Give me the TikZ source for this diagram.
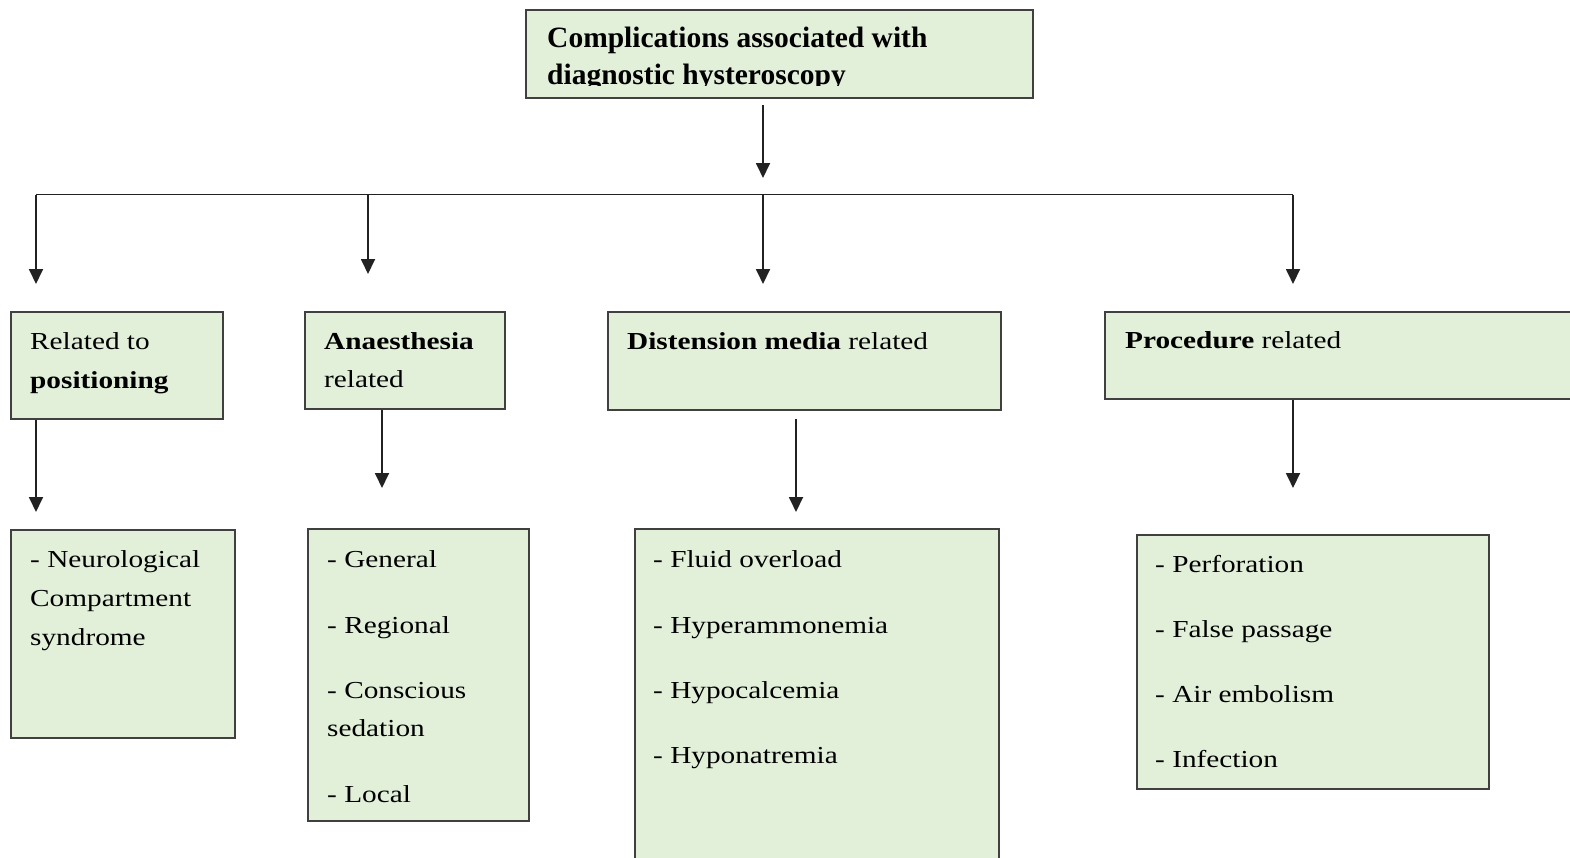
\documentclass[tikz,border=0pt]{standalone}
\usepackage{fontspec}
\setmainfont{Liberation Serif}
\newfontfamily\lowfont{Liberation Serif}[FakeStretch=1.2]
\usetikzlibrary{arrows.meta}
\definecolor{boxfill}{HTML}{E2EFD9}
\definecolor{boxline}{HTML}{404040}
\definecolor{lnk}{HTML}{222222}
\tikzset{
  box/.style={draw=boxline, fill=boxfill, line width=1.8pt, inner sep=0pt, anchor=north west},
  toptxt/.style={anchor=base west, inner sep=0pt, font=\fontsize{29.5}{38}\selectfont\bfseries},
  txt/.style={anchor=base west, inner sep=0pt, font=\lowfont\fontsize{24.4}{38}\selectfont},
  arr/.style={draw=lnk, line width=1.8pt, -{Triangle[width=14pt,length=15pt]}},
  ln/.style={draw=lnk, line width=1.8pt}
}
\begin{document}
\begin{tikzpicture}[x=1pt,y=-1pt]
\useasboundingbox (0,0) rectangle (1570,857);
\clip (0,0) rectangle (1570,857);
% boxes
\node[box, minimum width=507pt, minimum height=88pt] (T) at (525,9) {};
\node[box, minimum width=212pt, minimum height=107pt] (A1) at (10,311) {};
\node[box, minimum width=200pt, minimum height=97pt] (B1) at (304,311) {};
\node[box, minimum width=393pt, minimum height=98pt] (C1) at (607,311) {};
\node[box, minimum width=480pt, minimum height=87pt] (D1) at (1104,311) {};
\node[box, minimum width=224pt, minimum height=208pt] (A2) at (10,529) {};
\node[box, minimum width=221pt, minimum height=292pt] (B2) at (307,528) {};
\node[box, minimum width=364pt, minimum height=340pt] (C2) at (634,528) {};
\node[box, minimum width=352pt, minimum height=254pt] (D2) at (1136,534) {};
% top text (clipped as in the original)
\begin{scope}
\clip (525,9) rectangle (1032,85.5);
\node[toptxt] (t1) at (547,47) {Complications associated with};
\node[toptxt] (t2) at (547,84.5) {diagnostic hysteroscopy};
\end{scope}
% category texts
\node[txt] (a1a) at (30,349) {Related to};
\node[txt] (a1b) at (30,388) {\bfseries positioning};
\node[txt] (b1a) at (324,349) {\bfseries Anaesthesia};
\node[txt] (b1b) at (324,387) {related};
\node[txt] (c1a) at (627,349) {\textbf{Distension media} related};
\node[txt] (d1a) at (1125,348) {\textbf{Procedure} related};
% lists
\node[txt] (a2a) at (30,567) {- Neurological};
\node[txt] (a2b) at (30,606) {Compartment};
\node[txt] (a2c) at (30,645) {syndrome};
\node[txt] (b2a) at (327,567) {- General};
\node[txt] (b2b) at (327,633) {- Regional};
\node[txt] (b2c) at (327,698) {- Conscious};
\node[txt] (b2d) at (327,736) {sedation};
\node[txt] (b2e) at (327,802) {- Local};
\node[txt] (c2a) at (653,567) {- Fluid overload};
\node[txt] (c2b) at (653,633) {- Hyperammonemia};
\node[txt] (c2c) at (653,698) {- Hypocalcemia};
\node[txt] (c2d) at (653,763) {- Hyponatremia};
\node[txt] (d2a) at (1155,572) {- Perforation};
\node[txt] (d2b) at (1155,637) {- False passage};
\node[txt] (d2c) at (1155,702) {- Air embolism};
\node[txt] (d2d) at (1155,767) {- Infection};
% connector coordinates
\coordinate (ts) at (763,105);
\coordinate (tt) at (763,178);
\coordinate (hl) at (36,194.5);
\coordinate (hb) at (368,194.5);
\coordinate (hc) at (763,194.5);
\coordinate (hr) at (1293,194.5);
\coordinate (pa) at (36,284);
\coordinate (pb) at (368,274);
\coordinate (pc) at (763,284);
\coordinate (pd) at (1293,284);
\coordinate (qa) at (36,512);
\coordinate (qb) at (382,488);
\coordinate (cs) at (796,419);
\coordinate (qc) at (796,512);
\coordinate (qd) at (1293,488);
% connectors
\draw[arr] (ts) -- (tt);
\draw[ln] (hl) -- (hr);
\draw[arr] (hl) -- (pa);
\draw[arr] (hb) -- (pb);
\draw[arr] (hc) -- (pc);
\draw[arr] (hr) -- (pd);
\draw[arr] (A1.south -| qa) -- (qa);
\draw[arr] (B1.south -| qb) -- (qb);
\draw[arr] (cs) -- (qc);
\draw[arr] (D1.south -| qd) -- (qd);
\end{tikzpicture}
\end{document}
